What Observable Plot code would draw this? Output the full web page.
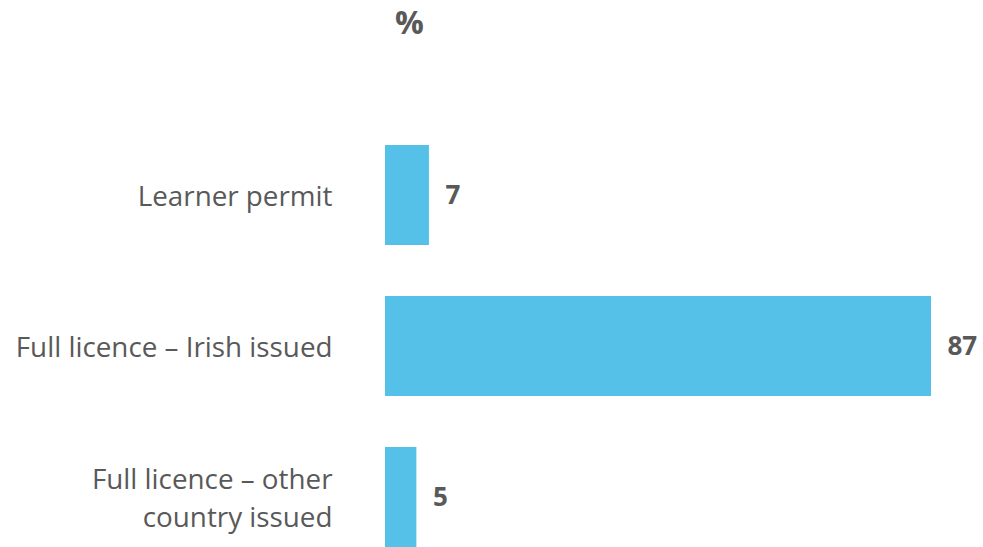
<!DOCTYPE html>
<html><head><meta charset="utf-8">
<script src="https://cdn.jsdelivr.net/npm/d3@7"></script>
<script src="https://cdn.jsdelivr.net/npm/@observablehq/plot@0.6"></script>
<style>
html,body{margin:0;padding:0;background:#fff;}
#wrap{position:relative;width:983px;height:547px;overflow:hidden;}
#title{position:absolute;left:0;top:0;width:983px;height:60px;font-family:"Open Sans",Lato,sans-serif;font-weight:bold;font-size:32px;color:#595959;}
#title span{position:absolute;left:395px;top:0px;}
#chart{position:absolute;left:0;top:60px;}
</style></head>
<body>
<div id="wrap"><div id="title"><span>%</span></div><div id="chart"></div></div>
<script>
const categories = ["Learner permit", "Full licence – Irish issued", "Full licence – other\ncountry issued"];
const values = [7, 87, 5];
const data = categories.map((c, i) => ({category: c, value: values[i]}));
const font = "'Open Sans', Lato, sans-serif";
const chart = Plot.plot({
  width: 983,
  height: 487,
  marginLeft: 385,
  marginRight: 52,
  marginTop: 85,
  marginBottom: 0,
  style: {fontFamily: font, color: "#595959", background: "#fff"},
  x: {domain: [0, 87], axis: null},
  y: {domain: categories, axis: null, paddingInner: 0.34, paddingOuter: 0},
  marks: [
    Plot.barX(data, {y: "category", x: "value", fill: "#55C0E8"}),
    Plot.text(data, {y: "category", x: 0, text: "category", textAnchor: "end", dx: -53, dy: -2, fontSize: 27.8, lineHeight: 1.4, fill: "#595959"}),
    Plot.text(data, {y: "category", x: "value", text: d => String(d.value), textAnchor: "start", dx: 16, fontSize: 26, fontWeight: "bold", fill: "#595959"})
  ]
});
document.getElementById("chart").appendChild(chart);
</script>
</body></html>
